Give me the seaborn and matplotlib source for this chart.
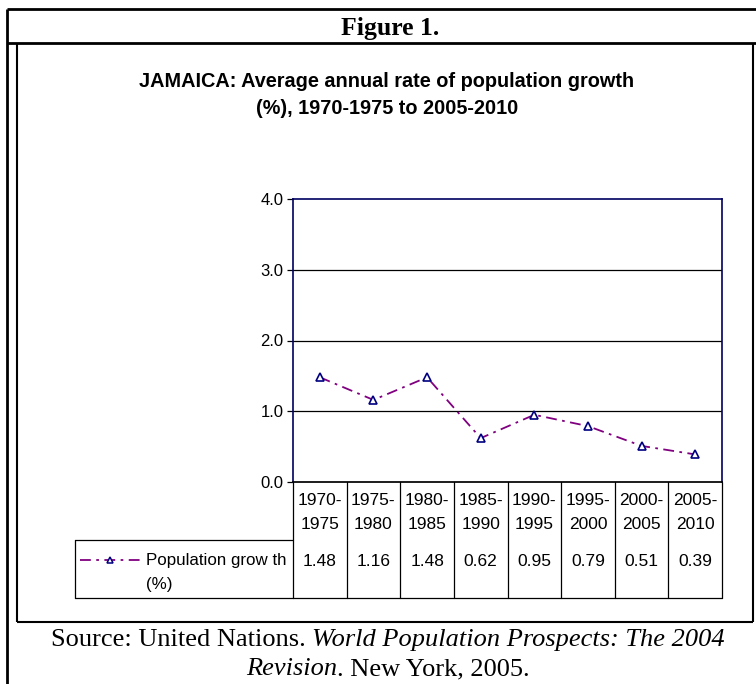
import numpy as np
import pandas as pd
from matplotlib import pyplot as plt
import seaborn as sns

# Data
periods = ['1970-\n1975', '1975-\n1980', '1980-\n1985', '1985-\n1990',
           '1990-\n1995', '1995-\n2000', '2000-\n2005', '2005-\n2010']
growth = [1.48, 1.16, 1.48, 0.62, 0.95, 0.79, 0.51, 0.39]
series_name = 'Population grow th\n(%)'
y_ticks = [0.0, 1.0, 2.0, 3.0, 4.0]

df = pd.DataFrame({'period': periods, 'growth': growth})

sns.set_theme(style='white')
plt.rcParams['font.family'] = ['Liberation Sans', 'DejaVu Sans']
plt.rcParams['text.color'] = 'black'
plt.rcParams['ytick.color'] = 'black'
plt.rcParams['xtick.color'] = 'black'

W, H = 756, 684
fig = plt.figure(figsize=(W / 100, H / 100), dpi=100)

# page overlay in pixel coordinates (frames, captions)
page = fig.add_axes([0, 0, 1, 1])
page.set_xlim(0, W)
page.set_ylim(H, 0)
page.axis('off')

k = dict(color='black', solid_capstyle='butt')
page.plot([7, 7], [9, H], lw=2, **k)
page.plot([7, W], [9, 9], lw=2, **k)
page.plot([7, W], [43, 43], lw=2, **k)
page.plot([17, 17], [43, 622], lw=1.5, **k)
page.plot([753, 753], [43, 622], lw=1.5, **k)
page.plot([17, 753], [622, 622], lw=1.5, **k)

page.text(390, 28, 'Figure 1.', ha='center', va='center', fontsize=18.5,
          fontweight='bold', family='Liberation Serif')

page.text(387, 95, 'JAMAICA: Average annual rate of population growth\n(%), 1970-1975 to 2005-2010',
          ha='center', va='center', fontsize=14.3, fontweight='bold', linespacing=1.5)

# source line with mixed italic pieces
fig.canvas.draw()
renderer = fig.canvas.get_renderer()
src_lines = [[('Source: United Nations. ', 'normal'), ('World Population Prospects: The 2004', 'italic')],
             [('Revision', 'italic'), ('. New York, 2005.', 'normal')]]
for row, y in zip(src_lines, [640, 669]):
    texts = []
    for s, st in row:
        t = page.text(0, y, s, fontsize=19, style=st, family='Liberation Serif',
                      va='center', ha='left')
        texts.append(t)
    widths = [t.get_window_extent(renderer).width for t in texts]
    x = 388 - sum(widths) / 2
    for t, w in zip(texts, widths):
        t.set_x(x)
        x += w

# main chart
ax = fig.add_axes([293 / W, 1 - 482 / H, 429 / W, 283 / H])
sns.lineplot(data=df, x='period', y='growth', ax=ax, color='#800080', lw=1.3,
             marker='^', markersize=6, markerfacecolor='white', markeredgecolor='#000080',
             markeredgewidth=1.2, dashes=False, sort=False)
ax.lines[0].set_dashes([6, 3, 1.5, 3])
ax.set_xlim(-0.5, len(periods) - 0.5)
ax.set_ylim(0, 4)
ax.set_yticks(y_ticks)
ax.set_yticklabels([f'{v:.1f}' for v in y_ticks], fontsize=12)
ax.set_xticks([])
ax.set_xlabel('')
ax.set_ylabel('')
for v in y_ticks[1:-1]:
    ax.axhline(v, color='black', lw=0.9, zorder=0)
for side in ['left', 'top', 'right']:
    ax.spines[side].set_color('#000060')
    ax.spines[side].set_linewidth(1.2)
ax.spines['bottom'].set_color('black')
ax.tick_params(axis='y', left=True, length=4, width=0.9, color='black', pad=3)

# data table under the chart
tr = ax.get_xaxis_transform()
r1 = -58 / 283
r2 = -116 / 283
for i in range(len(periods) + 1):
    ax.plot([i - 0.5, i - 0.5], [0, r2], transform=tr, color='black', lw=0.9, clip_on=False)
ax.plot([-0.5, len(periods) - 0.5], [r2, r2], transform=tr, color='black', lw=0.9, clip_on=False)
for i, (p, g) in enumerate(zip(periods, growth)):
    ax.text(i, r1 / 2 - 0.005, p, transform=tr, ha='center', va='center', fontsize=12.5, linespacing=1.7)
    ax.text(i, r1 - 0.075, f'{g:.2f}', transform=tr, ha='center', va='center', fontsize=12.5)

# legend cell
page.plot([75, 293], [540, 540], color='black', lw=0.9)
page.plot([75, 293], [598, 598], color='black', lw=0.9)
page.plot([75, 75], [540, 598], color='black', lw=0.9)
page.plot([80, 140], [560, 560], color='#800080', lw=1.3, dashes=[6, 3, 1.5, 3])
page.plot([110], [560], marker='^', markersize=5, markerfacecolor='white',
          markeredgecolor='#000080', markeredgewidth=1.1, ls='none')
page.text(146, 572, series_name, ha='left', va='center', fontsize=12.2, linespacing=1.75)

plt.savefig('out.png', dpi=100)
